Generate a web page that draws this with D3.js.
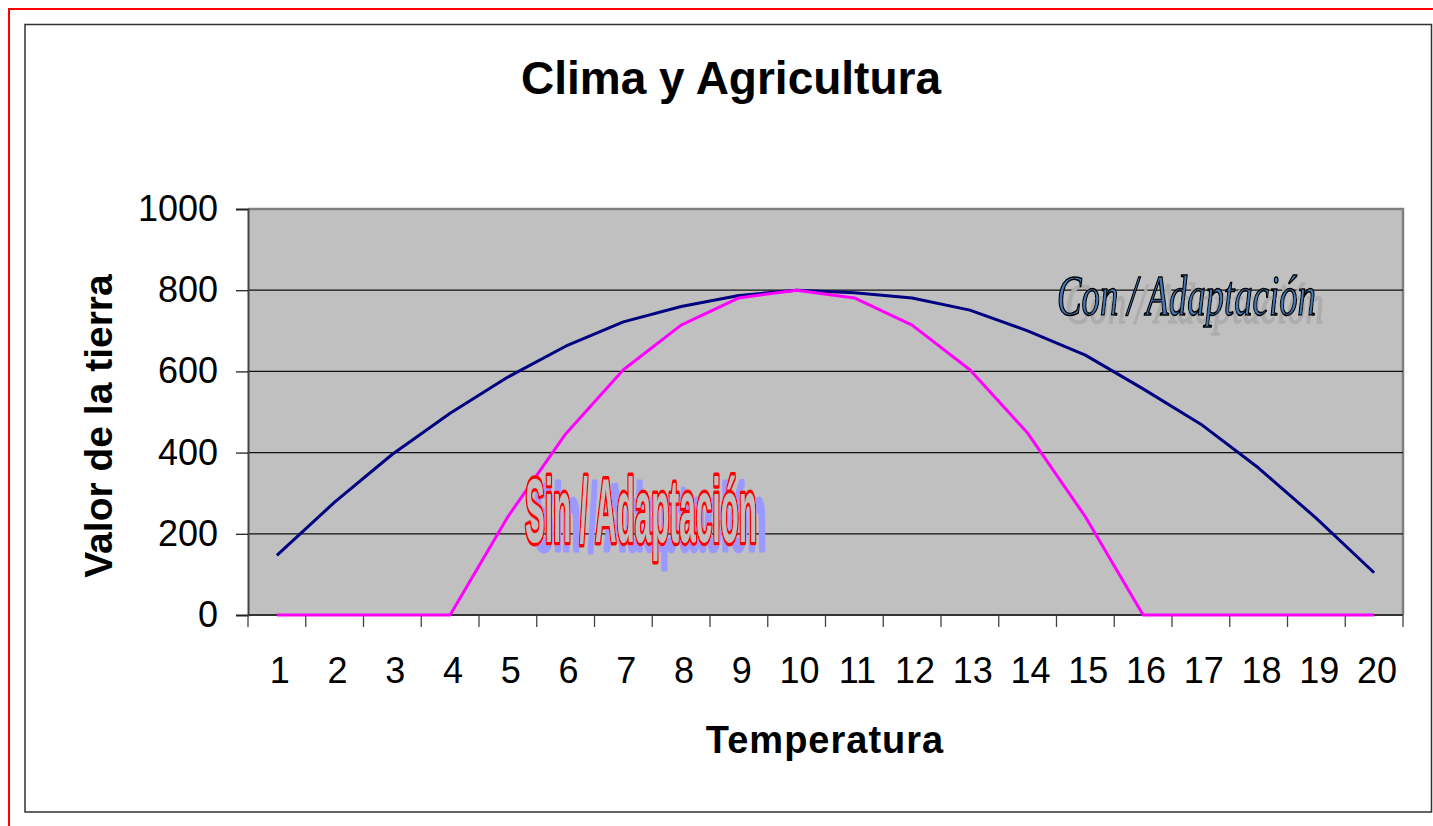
<!DOCTYPE html>
<html><head><meta charset="utf-8">
<script src="https://cdn.jsdelivr.net/npm/d3@7/dist/d3.min.js"></script>
<style>
html,body{margin:0;padding:0;background:#fff;}
svg{display:block;font-family:"Liberation Sans",Arial,sans-serif;}
</style></head>
<body>
<svg id="chart" width="1433" height="826"></svg>
<script>
const categories = [1,2,3,4,5,6,7,8,9,10,11,12,13,14,15,16,17,18,19,20];
const conAdaptacion = [147,278,396,497,586,662,722,760,787,800,794,781,751,700,640,557,470,362,238,104];
const sinAdaptacion = [0,0,0,0,242,446,604,714,781,800,781,714,604,448,242,0,0,0,0,0];
const yTicks = [0,200,400,600,800,1000];
const title = "Clima y Agricultura";
const xTitle = "Temperatura";
const yTitle = "Valor de la tierra";
const conLabel = "Con / Adaptación";
const sinLabel = "Sin / Adaptación";

(function(){
const svg = d3.select("#chart");

// drop-shadow filters for the WordArt labels
const defs = svg.append("defs");
function shadow(id, dx, dy, color){
  const f = defs.append("filter").attr("id",id).attr("x","-10%").attr("y","-30%")
    .attr("width","130%").attr("height","170%");
  f.append("feOffset").attr("in","SourceAlpha").attr("dx",dx).attr("dy",dy).attr("result","off");
  f.append("feFlood").attr("flood-color",color).attr("result","col");
  f.append("feComposite").attr("in","col").attr("in2","off").attr("operator","in").attr("result","sh");
  const m = f.append("feMerge");
  m.append("feMergeNode").attr("in","sh");
  m.append("feMergeNode").attr("in","SourceGraphic");
}
shadow("shCon", 8, 8, "#adadad");
shadow("shSin", 9, 7, "#9999ff");

// outer red frame
svg.append("rect").attr("x",9).attr("y",9).attr("width",1440).attr("height",840)
  .attr("fill","none").attr("stroke","#ff0000").attr("stroke-width",2);
// chart area frame
svg.append("rect").attr("x",25).attr("y",24.5).attr("width",1406.5).attr("height",787.5)
  .attr("fill","#fff").attr("stroke","#333").attr("stroke-width",1.5);

const pL = 248, pR = 1403, pT = 209, pB = 615;
const x = d3.scaleBand().domain(categories).range([pL,pR]).padding(0);
const y = d3.scaleLinear().domain([0,1000]).range([pB,pT]);

// plot area
svg.append("rect").attr("x",pL).attr("y",pT).attr("width",pR-pL).attr("height",pB-pT)
  .attr("fill","#c0c0c0");
svg.append("path").attr("d",`M${pL},${pT}H${pR}V${pB}`).attr("fill","none")
  .attr("stroke","#808080").attr("stroke-width",2.5);

// gridlines
svg.append("g").selectAll("line").data(yTicks.filter(d=>d>0 && d<1000)).join("line")
  .attr("x1",pL).attr("x2",pR).attr("y1",d=>y(d)).attr("y2",d=>y(d))
  .attr("stroke","#111").attr("stroke-width",1.3);

// y axis
const yAxis = svg.append("g").attr("transform",`translate(${pL},0)`)
  .call(d3.axisLeft(y).tickValues(yTicks).tickSize(12).tickPadding(18).tickFormat(d3.format("d")));
yAxis.select(".domain").attr("stroke","#444").attr("stroke-width",2);
yAxis.selectAll(".tick line").attr("stroke","#222").attr("stroke-width",1.3);
yAxis.selectAll("text").attr("font-size",36).attr("fill","#000")
  .attr("font-family","'Liberation Sans',Arial,sans-serif");

// x axis (ticks between categories)
const xAxisG = svg.append("g").attr("transform",`translate(0,${pB})`);
xAxisG.append("line").attr("x1",pL).attr("x2",pR).attr("stroke","#333").attr("stroke-width",2);
const bounds = categories.map(c=>x(c)).concat([pR]);
xAxisG.selectAll("line.tk").data(bounds).join("line").attr("class","tk")
  .attr("x1",d=>d).attr("x2",d=>d).attr("y1",0).attr("y2",12)
  .attr("stroke","#444").attr("stroke-width",1.3);
xAxisG.selectAll("text").data(categories).join("text")
  .attr("x",d=>x(d)+x.bandwidth()/2+3).attr("y",68)
  .attr("text-anchor","middle").attr("font-size",36).text(d=>d);

// lines
const cx = d=>x(d)+x.bandwidth()/2;
const line = d3.line().x((d,i)=>cx(categories[i])).y(d=>y(d));
svg.append("path").datum(conAdaptacion).attr("d",line).attr("fill","none")
  .attr("stroke","#000080").attr("stroke-width",3).attr("stroke-linejoin","round");
svg.append("path").datum(sinAdaptacion).attr("d",line).attr("fill","none")
  .attr("stroke","#ff00ff").attr("stroke-width",3).attr("stroke-linejoin","round");

// titles
svg.append("text").attr("x",731).attr("y",94).attr("text-anchor","middle")
  .attr("font-size",46).attr("font-weight","bold").text(title);
svg.append("text").attr("x",825).attr("y",753).attr("text-anchor","middle")
  .attr("font-size",38).attr("font-weight","bold").attr("letter-spacing",1).text(xTitle);
svg.append("text").attr("transform","translate(112,426) rotate(-90)").attr("text-anchor","middle")
  .attr("font-size",39).attr("font-weight","bold").text(yTitle);

// WordArt-like labels, horizontally compressed via scale transform, shadow via filter
function squeezed(str, x0, y0, width, filterId, attrs){
  const g = svg.append("g").attr("filter",`url(#${filterId})`);
  const t = g.append("text").text(str);
  Object.entries(attrs).forEach(([k,v])=>t.attr(k,v));
  const w = t.node().getComputedTextLength();
  t.attr("transform",`translate(${x0},${y0}) scale(${width/w},1)`);
  return t;
}
const serif = "'Liberation Serif','Times New Roman',serif";
squeezed(conLabel, 1057, 315, 259, "shCon", {"font-family":serif,"font-style":"italic","font-size":58,
  "fill":"#4478b4","stroke":"#000","stroke-width":1.6});
squeezed(sinLabel, 525, 542, 232, "shSin", {"font-weight":"bold","font-size":90,
  "fill":"#c0c0c0","stroke":"#ff0000","stroke-width":7,"stroke-linejoin":"round","paint-order":"stroke"});
})();
</script>
</body></html>
